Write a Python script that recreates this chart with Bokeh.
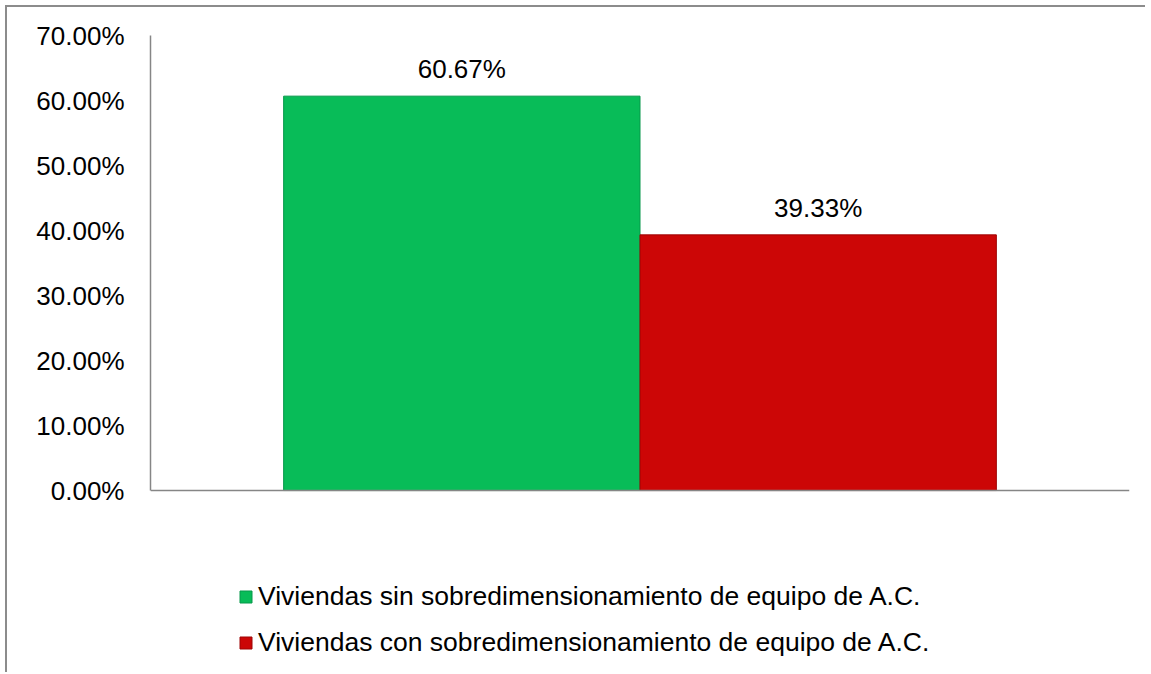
from bokeh.plotting import figure
from bokeh.models import ColumnDataSource, Range1d, PrintfTickFormatter, Legend, LegendItem, FixedTicker, Span
from bokeh.embed import file_html
from bokeh.resources import INLINE

categories = ["Viviendas sin sobredimensionamiento de equipo de A.C.",
              "Viviendas con sobredimensionamiento de equipo de A.C."]
values = [60.67, 39.33]
labels = ["60.67%", "39.33%"]
colors = ["#08bc58", "#cc0606"]
edge_colors = ["#06984a", "#9e0404"]
y_ticks = [0, 10, 20, 30, 40, 50, 60, 70]

BAR_W = 0.364
xs = [0.5 + (i - 0.5) * BAR_W for i in range(len(categories))]

src = ColumnDataSource(dict(x=xs, top=values, cat=categories, lab=labels,
                            color=colors, edge=edge_colors))

FONT = "Liberation Sans"

p = figure(width=1140, height=667, output_backend="svg", toolbar_location=None,
           x_range=Range1d(0, 1), y_range=Range1d(-28.3, 70),
           min_border_left=143, min_border_right=18, min_border_top=28, min_border_bottom=0)
p.styles = {"border-top": "2px solid #8c8c8c", "border-left": "2px solid #8c8c8c",
            "margin-left": "5px", "margin-top": "5px"}
p.outline_line_color = None
p.xgrid.grid_line_color = None
p.ygrid.grid_line_color = None
p.xaxis.visible = False

r = p.vbar(x="x", top="top", bottom=0, width=BAR_W, source=src,
           fill_color="color", line_color="edge", line_width=1)

p.add_layout(Span(location=0, dimension="width", line_color="#868686", line_width=1.5))

p.text(x="x", y="top", text="lab", source=src, text_align="center", text_baseline="bottom",
       y_offset=-12, text_font_size="26px", text_color="#000000",
       text_font={"value": FONT})

p.yaxis.ticker = FixedTicker(ticks=y_ticks)
p.yaxis.bounds = (0, 70)
p.yaxis.formatter = PrintfTickFormatter(format="%.2f%%")
p.yaxis.major_label_text_font = FONT
p.yaxis.major_label_text_font_size = "26px"
p.yaxis.major_label_text_color = "#000000"
p.yaxis.major_label_standoff = 20
p.yaxis.major_tick_line_color = None
p.yaxis.minor_tick_line_color = None
p.yaxis.axis_line_color = "#868686"
p.yaxis.axis_line_width = 1.5

items = [LegendItem(label=c, renderers=[r], index=i) for i, c in enumerate(categories)]
legend = Legend(items=items, location=(88, 16), orientation="vertical",
                label_text_font=FONT, label_text_font_size="26.5px", label_text_color="#000000",
                glyph_width=15, glyph_height=15, label_height=30, label_standoff=5,
                spacing=15, padding=0, margin=0, border_line_color=None,
                background_fill_alpha=0)
p.add_layout(legend, "center")

open("out.html", "w").write(file_html(p, INLINE))
